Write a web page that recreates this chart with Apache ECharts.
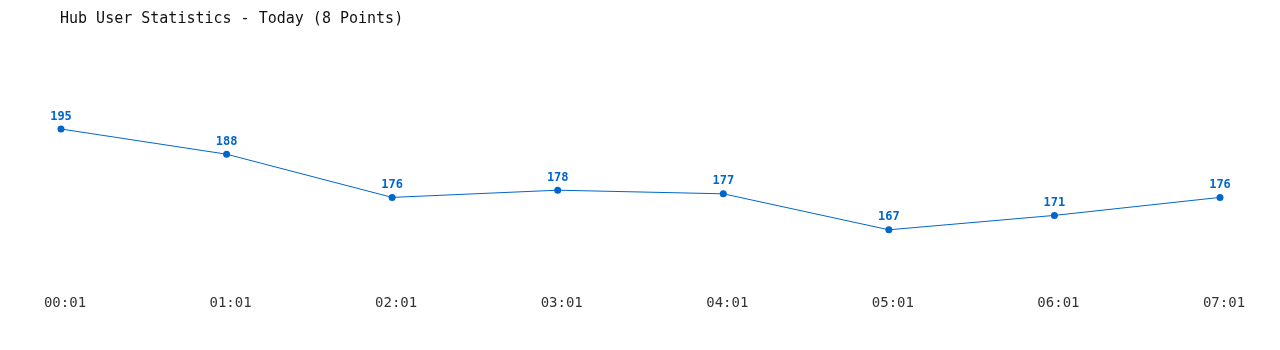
<!DOCTYPE html>
<html><head><meta charset="utf-8">
<script src="https://cdn.jsdelivr.net/npm/echarts@6/dist/echarts.min.js"></script>
<style>html,body{margin:0;padding:0;background:#fff}#c{width:1280px;height:350px}</style>
</head><body><div id="c"></div>
<script>
const categories = ['00:01','01:01','02:01','03:01','04:01','05:01','06:01','07:01'];
const users = [195, 188, 176, 178, 177, 167, 171, 176];
const titleText = 'Hub User Statistics - Today (8 Points)';
const chart = echarts.init(document.getElementById('c'), null, {renderer:'canvas'});
chart.setOption({
  animation:false,
  backgroundColor:'#fff',
  title:{text:titleText,left:55,top:7,textStyle:{fontFamily:'DejaVu Sans Mono',fontSize:15,fontWeight:'normal',color:'#111'}},
  grid:{left:61,right:60,top:111,height:180},
  xAxis:{type:'category',data:categories,boundaryGap:false,
    axisLine:{show:false},axisTick:{show:false},splitLine:{show:false},
    axisLabel:{margin:5,padding:[0,0,0,8],fontFamily:'DejaVu Sans Mono',fontSize:14,color:'#333'}},
  yAxis:{type:'value',min:150,max:200,show:false,splitLine:{show:false}},
  series:[{type:'line',data:users,symbol:'circle',symbolSize:7,
    lineStyle:{color:'#0066cc',width:1},itemStyle:{color:'#0066cc'},
    label:{show:true,position:'top',distance:3,color:'#0066cc',fontWeight:'bold',fontSize:12,fontFamily:'DejaVu Sans Mono'}}]
});
</script></body></html>
